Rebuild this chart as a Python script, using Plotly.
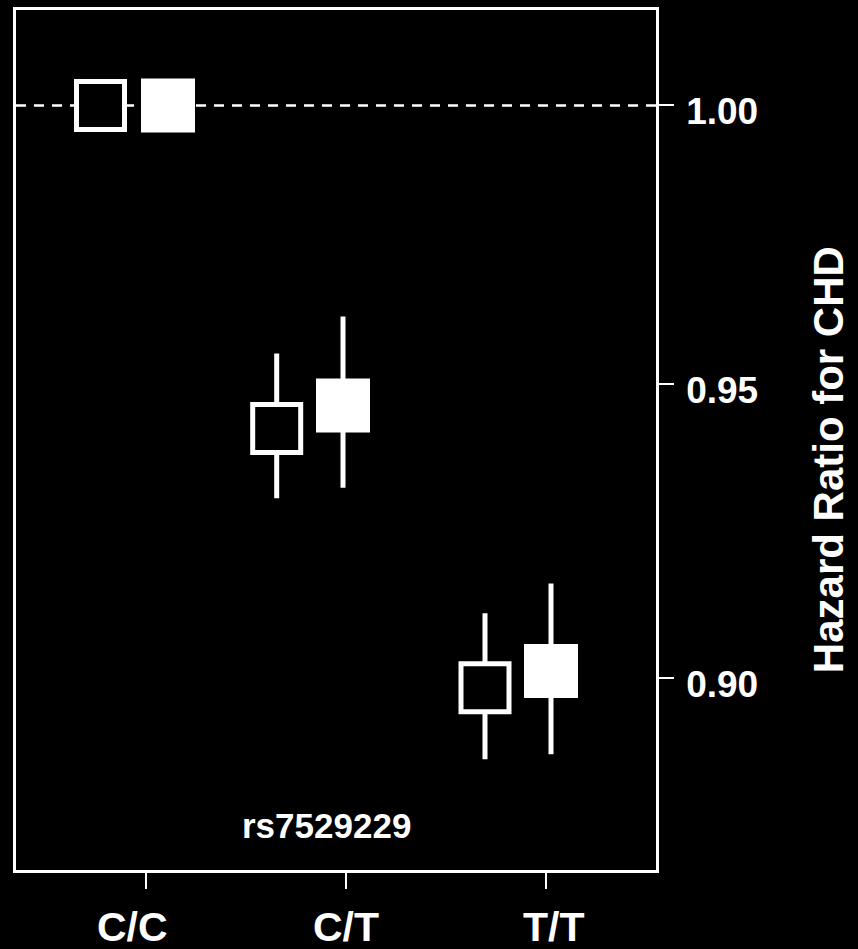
import math
import plotly.graph_objects as go

# ---- data ----
categories = ["C/C", "C/T", "T/T"]
cat_tick_x = [1.0, 2.0, 3.0]          # axis tick positions
cat_label_x = [0.93, 2.0, 3.035]      # label positions
snp_label = "rs7529229"

# open squares (model 1)
open_x = [0.7725, 1.6535, 2.695]
open_hr = [1.00, 0.9423, 0.8984]
open_lo = [1.00, 0.9303, 0.8867]
open_hi = [1.00, 0.9554, 0.9108]

# filled squares (model 2)
fill_x = [1.11, 1.985, 3.025]
fill_hr = [1.00, 0.9463, 0.9012]
fill_lo = [1.00, 0.9321, 0.8875]
fill_hi = [1.00, 0.9619, 0.9158]

ref_value = 1.00
y_ticks = [0.90, 0.95, 1.00]
y_tick_text = ["0.90", "0.95", "1.00"]
y_title = "Hazard Ratio for CHD"

x_range = [0.35, 3.55]
y_range_vals = [0.8688, 1.0177]

FONT = "Liberation Sans, Arial, sans-serif"

fig = go.Figure()

# reference dashed line
fig.add_trace(go.Scatter(
    x=x_range, y=[ref_value, ref_value], mode="lines",
    line=dict(color="white", width=2.5, dash="10px,8px"),
    hoverinfo="skip", showlegend=False))

def err(hr, lo, hi):
    return ([h - c for h, c in zip(hi, hr)], [c - l for c, l in zip(hr, lo)])

ep, em = err(open_hr, open_lo, open_hi)
fig.add_trace(go.Scatter(
    x=open_x, y=open_hr, mode="markers",
    marker=dict(symbol="square", size=48, color="black",
                line=dict(color="white", width=5)),
    error_y=dict(type="data", symmetric=False, array=ep, arrayminus=em,
                 color="white", thickness=5, width=0),
    showlegend=False))

fp, fm = err(fill_hr, fill_lo, fill_hi)
fig.add_trace(go.Scatter(
    x=fill_x, y=fill_hr, mode="markers",
    marker=dict(symbol="square", size=54, color="white",
                line=dict(color="white", width=0)),
    error_y=dict(type="data", symmetric=False, array=fp, arrayminus=fm,
                 color="white", thickness=5, width=0),
    showlegend=False))

annotations = []
for lab, x in zip(categories, cat_label_x):
    annotations.append(dict(
        x=x, xref="x", y=-(928 - 870.5) / 863.5, yref="paper",
        text=f"<b>{lab}</b>", showarrow=False, xanchor="center", yanchor="middle",
        font=dict(family=FONT, size=41, color="white")))

annotations.append(dict(
    x=1.9, xref="x", y=math.log10(0.8760), yref="y",
    text=f"<b>{snp_label}</b>", showarrow=False, xanchor="center", yanchor="middle",
    font=dict(family=FONT, size=35, color="white")))

annotations.append(dict(
    x=(828.5 - 16) / 640, xref="paper", y=(870.5 - 458.5) / 863.5, yref="paper",
    text=f"<b>{y_title}</b>", showarrow=False, textangle=-90,
    xanchor="center", yanchor="middle",
    font=dict(family=FONT, size=42, color="white")))

fig.update_layout(
    width=858, height=949,
    margin=dict(l=16, r=202, t=7, b=78.5),
    paper_bgcolor="black", plot_bgcolor="black",
    font=dict(family=FONT, color="white"),
    showlegend=False,
    annotations=annotations,
    xaxis=dict(
        range=x_range, showgrid=False, zeroline=False,
        tickvals=cat_tick_x, ticktext=["", "", ""],
        ticks="outside", ticklen=16, tickwidth=2, tickcolor="white",
        showline=True, linecolor="white", linewidth=2.5, mirror=True,
    ),
    yaxis=dict(
        type="log", side="right",
        range=[math.log10(y_range_vals[0]), math.log10(y_range_vals[1])],
        showgrid=False, zeroline=False,
        tickvals=y_ticks, ticktext=[f"<b>{t}</b>" for t in y_tick_text],
        tickfont=dict(family=FONT, size=37, color="white"),
        ticks="outside", ticklen=15, tickwidth=2, tickcolor="white",
        ticklabelstandoff=5, ticklabelshift=6,
        showline=True, linecolor="white", linewidth=2.5, mirror=True,
    ),
)

fig.write_html("out.html")
